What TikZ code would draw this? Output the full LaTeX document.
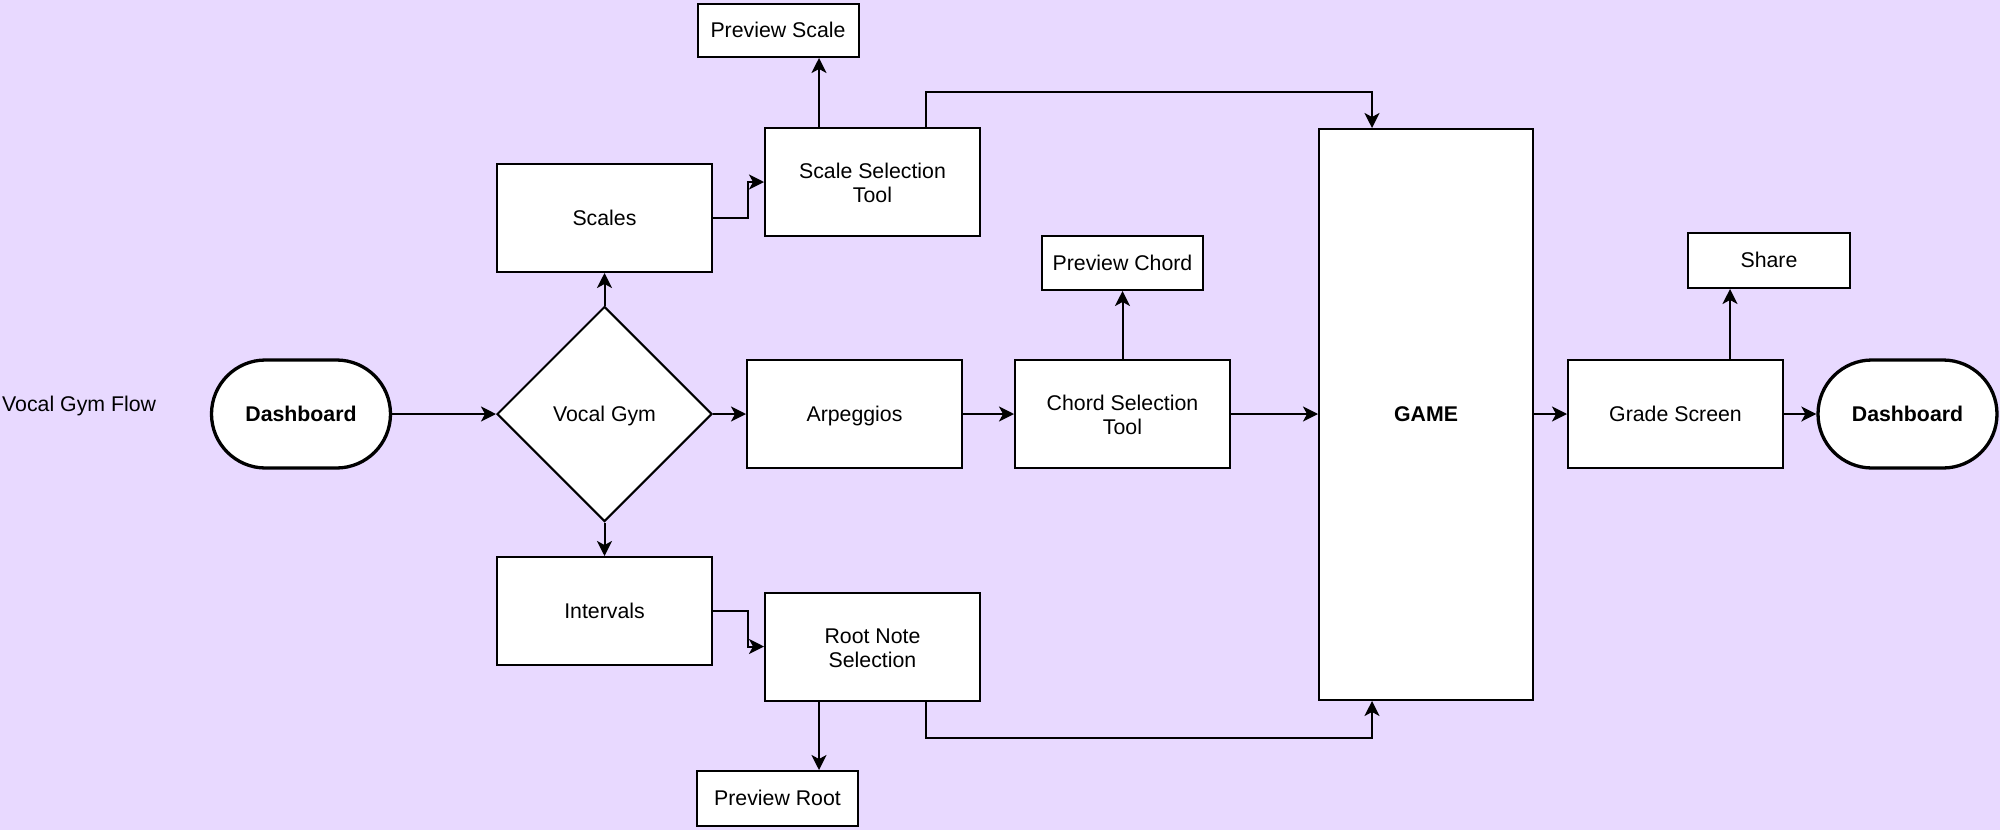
\documentclass[tikz,border=0pt]{standalone}
\usepackage{fontspec}
\setmainfont{Liberation Sans}
\usetikzlibrary{arrows.meta,shapes.geometric}
\definecolor{lavender}{RGB}{232,217,255}

\begin{document}
\begin{tikzpicture}[x=1pt, y=-1pt,
		every node/.style={font=\fontsize{21.3}{24}\selectfont, text height=19.3pt, text depth=4.5pt},
		twoline/.style={text height=46.3pt, text depth=4.5pt},
		box/.style={draw, fill=white, line width=2pt, inner sep=0pt, align=center, minimum width=215pt, minimum height=108pt},
		smallbox/.style={box, minimum width=161pt, minimum height=54pt},
		terminal/.style={box, rounded corners=54pt, line width=3.3pt, font=\fontsize{21.3}{24}\selectfont\bfseries, minimum width=179pt},
		link/.style={-{Stealth[length=15pt,width=15pt,inset=4pt]}, line width=2pt}]
	\useasboundingbox[fill=lavender] (0,0) rectangle (2000,830);

	\node[anchor=west, inner sep=0pt] (title) at (2,404) {Vocal Gym Flow};

	% main row
	\node[terminal] (start) at (301,414) {Dashboard};
	\node[box, shape=diamond, minimum width=215pt, minimum height=215pt] (gym) at (604.5,414) {Vocal Gym};
	\node[box] (arpeggios) at (854.5,414) {Arpeggios};
	\node[box, twoline] (chordsel) at (1122.5,414) {Chord Selection\\Tool};
	\node[box, minimum width=214pt, minimum height=571pt, font=\fontsize{21.3}{24}\selectfont\bfseries] (game) at (1426,414.5) {GAME};
	\node[box] (grade) at (1675.5,414) {Grade Screen};
	\node[terminal] (finish) at (1907.5,414) {Dashboard};

	% upper branch
	\node[box] (scales) at (604.5,218) {Scales};
	\node[box, twoline] (scalesel) at (872.5,182) {Scale Selection\\Tool};
	\node[smallbox, minimum height=53pt] (prevscale) at (778,30.5) {Preview Scale};
	\node[smallbox] (prevchord) at (1122.5,263) {Preview Chord};
	\node[smallbox, minimum width=162pt, minimum height=55pt] (share) at (1769,260.5) {Share};

	% lower branch
	\node[box] (intervals) at (604.5,611) {Intervals};
	\node[box, twoline] (rootsel) at (872.5,646.5) {Root Note\\Selection};
	\node[smallbox, minimum height=55pt] (prevroot) at (777.5,798.5) {Preview Root};

	% connectors
	\draw[link] (start) -- (gym);
	\draw[link] (gym) -- (arpeggios);
	\draw[link] (arpeggios) -- (chordsel);
	\draw[link] (chordsel) -- (game.west |- chordsel);
	\draw[link] (game.east |- grade) -- (grade);
	\draw[link] (grade) -- (finish);
	\draw[link] (gym.north) -- (scales.south);
	\draw[link] (gym.south) -- (intervals.north);
	\draw[link] (scales.east) -- ++(35,0) |- (scalesel.west);
	\draw[link] (intervals.east) -- ++(35,0) |- (rootsel.west);
	\draw[link] (chordsel.north) -- (prevchord.south);
	\draw[link] ([xshift=-53.5pt]scalesel.north) -- ([xshift=-53.5pt]scalesel.north |- prevscale.south);
	\draw[link] ([xshift=53.5pt]scalesel.north) -- ++(0,-35) -| ([xshift=-54pt]game.north);
	\draw[link] ([xshift=-53.5pt]rootsel.south) -- ([xshift=-53.5pt]rootsel.south |- prevroot.north);
	\draw[link] ([xshift=53.5pt]rootsel.south) -- ++(0,36) -| ([xshift=-54pt]game.south);
	\draw[link] ([xshift=54.5pt]grade.north) -- ([xshift=54.5pt]grade.north |- share.south);

\end{tikzpicture}
\end{document}
